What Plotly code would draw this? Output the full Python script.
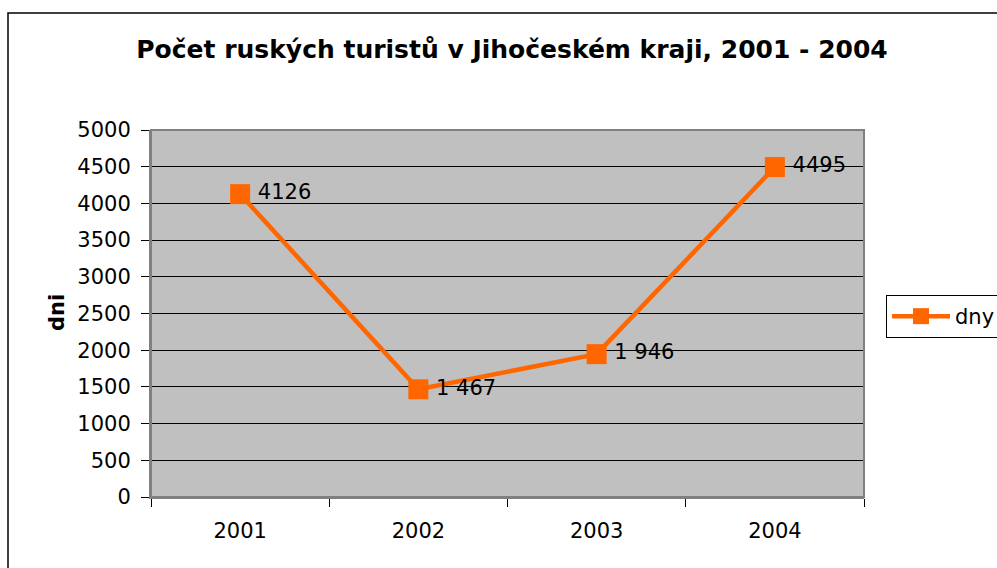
import plotly.graph_objects as go

years = ["2001", "2002", "2003", "2004"]
values = [4126, 1467, 1946, 4495]
labels = ["4126", "1 467", "1 946", "4495"]
y_ticks = [0, 500, 1000, 1500, 2000, 2500, 3000, 3500, 4000, 4500, 5000]

W, H = 997, 568
L, R, T, B = 151, 864, 130, 497
pw, ph = R - L, B - T

def px(x):
    return (x - L) / pw

def py(y):
    return (B - y) / ph

FONT = "DejaVu Sans, Liberation Sans, Arial, sans-serif"
ORANGE = "#FF6600"

fig = go.Figure()
fig.add_trace(go.Scatter(
    x=years, y=values, mode="lines+markers+text", name="dny",
    text=labels, texttemplate="\u2009%{text}", textposition="middle right",
    textfont=dict(family=FONT, size=21, color="black"),
    line=dict(color=ORANGE, width=4.5),
    marker=dict(symbol="square", size=20, color=ORANGE),
    cliponaxis=False,
))

fig.update_layout(
    width=W, height=H,
    margin=dict(l=L, r=W - R, t=T, b=H - B, autoexpand=False),
    paper_bgcolor="white", plot_bgcolor="#C0C0C0",
    font=dict(family=FONT, size=21, color="black"),
    title=dict(text="<b>Počet ruských turistů v Jihočeském kraji, 2001 - 2004</b>",
               x=512 / W, xanchor="center", y=1 - 49 / H, yanchor="middle",
               xref="container", yref="container",
               font=dict(family=FONT, size=25, color="black")),
    showlegend=True,
    legend=dict(x=px(886), y=py(295), xanchor="left", yanchor="top",
                bgcolor="white", bordercolor="black", borderwidth=1,
                itemwidth=58,
                font=dict(family=FONT, size=21, color="black")),
    xaxis=dict(type="category", tickson="boundaries", ticks="outside", ticklen=8,
               tickcolor="black", showgrid=False, showline=True, linecolor="#808080",
               linewidth=2, tickfont=dict(size=21), range=[-0.5, 3.5],
               ticklabelstandoff=14, automargin=False),
    yaxis=dict(range=[0, 5000], tickvals=y_ticks, ticks="outside", ticklen=8,
               tickcolor="black", showgrid=True, gridcolor="black", gridwidth=1,
               showline=True, linecolor="#808080", linewidth=2, zeroline=False,
               tickfont=dict(size=21), ticklabelstandoff=6, automargin=False),
    annotations=[dict(text="<b>dni</b>", xref="paper", yref="paper",
                      x=px(57), y=py(313), xanchor="center", yanchor="middle",
                      textangle=-90, showarrow=False,
                      font=dict(family=FONT, size=21, color="black"))],
    shapes=[dict(type="rect", xref="paper", yref="paper",
                 x0=px(8), x1=px(1005), y0=py(580), y1=py(13),
                 line=dict(color="black", width=1.5), fillcolor="rgba(0,0,0,0)", layer="below"),
            dict(type="rect", xref="paper", yref="paper", x0=0, x1=1, y0=0, y1=1,
                 line=dict(color="#808080", width=2), fillcolor="rgba(0,0,0,0)")],
)

fig.write_html("out.html", config={"displayModeBar": False},
               post_script="document.body.style.margin='0px'; document.body.style.overflow='hidden';")
